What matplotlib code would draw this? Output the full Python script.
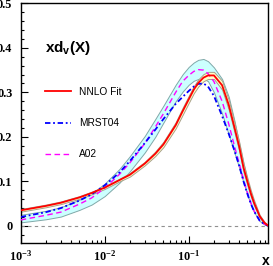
import numpy as np
import matplotlib
matplotlib.use('Agg')
import matplotlib.pyplot as plt
from matplotlib.ticker import MultipleLocator, FixedLocator, FuncFormatter, LogLocator, NullFormatter

plt.rcParams['mathtext.fontset'] = 'custom'
plt.rcParams['mathtext.rm'] = 'Liberation Serif:bold'
plt.rcParams['mathtext.bf'] = 'Liberation Serif:bold'
plt.rcParams['mathtext.sf'] = 'Liberation Sans:bold'

# x grid
x = [0.001, 0.002, 0.003, 0.005, 0.007, 0.01, 0.015, 0.02, 0.03, 0.04, 0.05,
     0.07, 0.085, 0.1, 0.115, 0.13, 0.15, 0.17, 0.2, 0.25, 0.3, 0.35, 0.4,
     0.45, 0.5, 0.55, 0.6, 0.7, 0.8, 0.88]

# NNLO fit (red) and its band
nnlo = [0.035, 0.045, 0.052, 0.064, 0.074, 0.086, 0.103, 0.115, 0.140, 0.162, 0.183,
        0.226, 0.258, 0.284, 0.306, 0.321, 0.333, 0.338, 0.338, 0.316, 0.272, 0.222, 0.178,
        0.131, 0.100, 0.073, 0.052, 0.022, 0.007, 0.001]
nnlo_hi = [0.038, 0.048, 0.055, 0.067, 0.077, 0.089, 0.106, 0.119, 0.144, 0.167, 0.189,
           0.233, 0.266, 0.292, 0.314, 0.329, 0.341, 0.346, 0.346, 0.326, 0.283, 0.233, 0.188,
           0.141, 0.108, 0.080, 0.058, 0.025, 0.009, 0.002]
nnlo_lo = [0.032, 0.042, 0.049, 0.061, 0.071, 0.083, 0.100, 0.111, 0.136, 0.157, 0.177,
           0.219, 0.250, 0.276, 0.298, 0.313, 0.325, 0.330, 0.330, 0.306, 0.261, 0.211, 0.168,
           0.121, 0.092, 0.066, 0.046, 0.019, 0.005, 0.000]

# MRST04 (blue)
mrst = [0.020, 0.031, 0.040, 0.057, 0.071, 0.091, 0.120, 0.146, 0.186, 0.216, 0.240,
        0.274, 0.290, 0.303, 0.313, 0.319, 0.320, 0.313, 0.292, 0.247, 0.207, 0.170, 0.135,
        0.100, 0.072, 0.050, 0.033, 0.012, 0.004, 0.0005]

# A02 (magenta) and its band
a02 = [0.0135, 0.024, 0.031, 0.049, 0.063, 0.085, 0.116, 0.142, 0.185, 0.222, 0.252,
       0.300, 0.325, 0.338, 0.347, 0.351, 0.350, 0.342, 0.324, 0.280, 0.229, 0.180, 0.140,
       0.104, 0.075, 0.052, 0.034, 0.012, 0.004, 0.0005]
a02_hi = [0.025, 0.034, 0.042, 0.059, 0.073, 0.095, 0.128, 0.157, 0.202, 0.240, 0.270,
          0.317, 0.341, 0.357, 0.367, 0.373, 0.375, 0.370, 0.356, 0.330, 0.290, 0.237, 0.185,
          0.140, 0.103, 0.075, 0.050, 0.020, 0.006, 0.001]
a02_lo = [0.008, 0.015, 0.021, 0.036, 0.048, 0.067, 0.097, 0.123, 0.165, 0.200, 0.232,
          0.280, 0.302, 0.317, 0.326, 0.330, 0.331, 0.325, 0.300, 0.252, 0.205, 0.165, 0.130,
          0.097, 0.070, 0.048, 0.031, 0.011, 0.003, 0.0]

labels = ['NNLO Fit', 'MRST04', 'A02']

fig = plt.figure(figsize=(2.73, 2.66), dpi=100)
ax = fig.add_axes([0.0758, 0.0853, 0.9059, 0.9023])

ax.fill_between(x, a02_lo, a02_hi, facecolor='#ccffff', edgecolor='#80a8a8', lw=0.7, zorder=1)
ax.fill_between(x, nnlo_lo, nnlo_hi, facecolor='#ffffc8', edgecolor='#a8a088', lw=0.7, zorder=2)
ax.axhline(0, color='#909090', lw=0.8, dashes=(3, 3), zorder=2)

l3, = ax.plot(x, a02, color='#ff00ff', lw=1.0, dashes=(4, 2.5), zorder=3)
l2, = ax.plot(x, mrst, color='#0000ff', lw=1.3, dashes=(3, 1.5, 1, 1.5), zorder=4)
l1, = ax.plot(x, nnlo, color='#ff0000', lw=1.3, zorder=5)

ax.set_xscale('log')
ax.set_xlim(1e-3, 0.88)
ax.set_ylim(-0.039, 0.5)

ax.xaxis.set_major_locator(FixedLocator([1e-3, 1e-2, 1e-1]))
ax.xaxis.set_minor_locator(LogLocator(base=10, subs=np.arange(2, 10)))
ax.xaxis.set_minor_formatter(NullFormatter())
ax.xaxis.set_major_formatter(FuncFormatter(
    lambda v, p: r'$\mathbf{10^{%d}}$' % int(round(np.log10(v)))))
ax.yaxis.set_major_locator(MultipleLocator(0.1))
ax.yaxis.set_minor_locator(MultipleLocator(0.02))
ax.yaxis.set_major_formatter(FuncFormatter(lambda v, p: '%g' % round(v, 2)))

ax.tick_params(which='both', direction='in', top=False, right=False, width=0.8)
ax.tick_params(which='major', length=5)
ax.tick_params(which='minor', length=2.5)
ax.tick_params(axis='y', pad=6)
ax.tick_params(axis='x', pad=4, labelsize=8.8)
for t in ax.get_yticklabels():
    t.set_fontfamily('Liberation Serif')
    t.set_fontweight('bold')
    t.set_fontsize(8.8)
for s in ax.spines.values():
    s.set_linewidth(1.0)

ax.text(0.098, 0.814, r'$\mathsf{xd_v(X)}$', transform=ax.transAxes,
        fontsize=11, va='center', ha='left')
fig.text(266 / 273, 1 - 261 / 266, 'x', fontfamily='Liberation Sans',
         fontweight='bold', fontsize=10, ha='center', va='center')

leg = ax.legend([l1, l2, l3], labels, loc='upper left', bbox_to_anchor=(0.098, 0.652),
                frameon=False, borderpad=0, borderaxespad=0, handlelength=2.6,
                handletextpad=0.8, labelspacing=2.1,
                prop={'family': 'Liberation Sans', 'size': 7.3})

fig.savefig('out.png', dpi=100)
